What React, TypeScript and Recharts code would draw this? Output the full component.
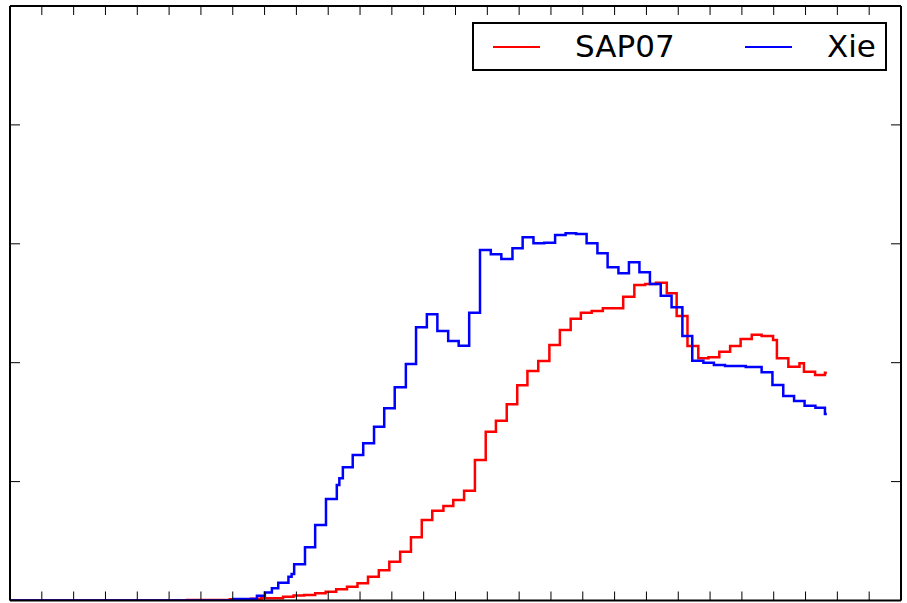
import React from 'react';
import { LineChart, Line, XAxis, YAxis, Legend } from 'recharts';

// Bin start positions (x) and step heights (y) for each histogram
const sapX = [0, 5.56, 6.91, 7.57, 7.9, 8.58, 8.91, 9.24, 9.59, 9.92, 10.25, 10.59, 10.92, 11.25, 11.59, 11.92,
  12.26, 12.6, 12.94, 13.27, 13.62, 13.93, 14.27, 14.61, 14.95, 15.27, 15.61, 15.94, 16.26, 16.6, 16.95,
  17.28, 17.62, 17.94, 18.28, 18.63, 18.96, 19.27, 19.62, 19.96, 20.3, 20.64, 20.95, 21.29, 21.63, 21.95,
  22.29, 22.63, 22.96, 23.31, 23.62, 23.98, 24.1, 24.46, 24.81, 24.95, 25.3, 25.61, 25.67];
const sapY = [0, 0.005, 0.01, 0.015, 0.018, 0.032, 0.042, 0.046, 0.061, 0.074, 0.094, 0.116, 0.145, 0.2, 0.254, 0.326,
  0.41, 0.532, 0.677, 0.755, 0.795, 0.845, 0.923, 1.182, 1.42, 1.512, 1.651, 1.81, 1.93, 2.014, 2.149,
  2.275, 2.37, 2.42, 2.435, 2.458, 2.458, 2.555, 2.653, 2.662, 2.673, 2.584, 2.393, 2.14, 2.037, 2.045,
  2.093, 2.14, 2.2, 2.235, 2.225, 2.19, 2.037, 1.966, 1.995, 1.924, 1.897, 1.916, 1.916];

const xieX = [0, 7.01, 7.76, 8.01, 8.23, 8.43, 8.75, 8.85, 8.93, 9.27, 9.59, 9.93, 10.27, 10.35, 10.46, 10.77,
  11.1, 11.44, 11.76, 12.09, 12.44, 12.76, 13.1, 13.43, 13.77, 14.1, 14.43, 14.77, 15.11, 15.44, 15.79,
  16.11, 16.45, 16.79, 17.13, 17.46, 17.79, 18.12, 18.46, 18.78, 19.12, 19.45, 19.78, 20.11, 20.45, 20.79,
  21.13, 21.44, 21.79, 22.12, 22.47, 23.12, 23.62, 23.96, 24.3, 24.64, 24.97, 25.31, 25.61, 25.67];
const xieY = [0, 0.013, 0.04, 0.067, 0.103, 0.15, 0.2, 0.223, 0.304, 0.447, 0.635, 0.854, 0.971, 1.028, 1.12, 1.224,
  1.322, 1.462, 1.616, 1.793, 1.989, 2.298, 2.407, 2.267, 2.183, 2.143, 2.42, 2.948, 2.912, 2.872, 2.962,
  3.055, 3.004, 3.009, 3.074, 3.088, 3.082, 3.004, 2.92, 2.802, 2.752, 2.844, 2.76, 2.662, 2.563, 2.466,
  2.225, 2.017, 2.0, 1.981, 1.972, 1.964, 1.919, 1.812, 1.72, 1.678, 1.638, 1.622, 1.569, 1.569];

const xTicks = [0, 1, 2, 3, 4, 5, 6, 7, 8, 9, 10, 11, 12, 13, 14, 15, 16, 17, 18, 19, 20, 21, 22, 23, 24, 25, 26, 27, 28];
const yTicks = [0, 1, 2, 3, 4, 5];

const seriesNames = ['SAP07', 'Xie'];
const seriesColors = ['#ff0000', '#0000ff'];

const sapData = sapX.map((x, i) => ({ x, y: sapY[i] }));
const xieData = xieX.map((x, i) => ({ x, y: xieY[i] }));

const axisLine = { stroke: '#000', strokeWidth: 2 };
const tickLine = { stroke: '#000', strokeWidth: 1 };
const noLabel = () => <g />;

const legendOffsets = [19, 271];

const renderLegend = (props: any) => {
  const payload = props.payload || [];
  return (
    <div
      style={{
        position: 'relative',
        boxSizing: 'border-box',
        width: 415,
        height: 49,
        border: '2px solid #000',
        background: '#fff',
        fontFamily: 'DejaVu Sans',
        fontSize: 31,
        color: '#000',
      }}
    >
      {payload.map((p: any, i: number) => (
        <div
          key={p.value}
          style={{
            position: 'absolute',
            left: legendOffsets[i],
            top: 0,
            height: 45,
            display: 'flex',
            alignItems: 'center',
            whiteSpace: 'nowrap',
          }}
        >
          <div style={{ width: 47, height: 2, background: p.color, marginRight: 35 }} />
          <span style={{ lineHeight: '45px' }}>{p.value}</span>
        </div>
      ))}
    </div>
  );
};

export default function App() {
  return (
    <div style={{ position: 'absolute', left: 0, top: 0, width: 907, height: 603, background: '#fff' }}>
      <LineChart width={907} height={603} margin={{ top: 6, right: 6, bottom: 2.5, left: 10 }}>
        <XAxis
          xAxisId="b"
          type="number"
          dataKey="x"
          domain={[0, 28]}
          ticks={xTicks}
          allowDataOverflow
          orientation="bottom"
          mirror
          tick={noLabel}
          tickSize={9}
          stroke="#000"
          axisLine={axisLine}
          tickLine={tickLine}
        />
        <XAxis
          xAxisId="t"
          type="number"
          dataKey="x"
          domain={[0, 28]}
          ticks={xTicks}
          allowDataOverflow
          orientation="top"
          mirror
          tick={noLabel}
          tickSize={9}
          stroke="#000"
          axisLine={axisLine}
          tickLine={tickLine}
        />
        <YAxis
          yAxisId="l"
          type="number"
          domain={[0, 5]}
          ticks={yTicks}
          allowDataOverflow
          orientation="left"
          mirror
          tick={noLabel}
          tickSize={10}
          stroke="#000"
          axisLine={axisLine}
          tickLine={tickLine}
        />
        <YAxis
          yAxisId="r"
          type="number"
          domain={[0, 5]}
          ticks={yTicks}
          allowDataOverflow
          orientation="right"
          mirror
          tick={noLabel}
          tickSize={10}
          stroke="#000"
          axisLine={axisLine}
          tickLine={tickLine}
        />
        <Line
          xAxisId="b"
          yAxisId="l"
          data={sapData}
          dataKey="y"
          name={seriesNames[0]}
          type="stepAfter"
          stroke={seriesColors[0]}
          strokeWidth={2.5}
          dot={false}
          activeDot={false}
          isAnimationActive={false}
        />
        <Line
          xAxisId="b"
          yAxisId="l"
          data={xieData}
          dataKey="y"
          name={seriesNames[1]}
          type="stepAfter"
          stroke={seriesColors[1]}
          strokeWidth={2.5}
          dot={false}
          activeDot={false}
          isAnimationActive={false}
        />
        <Legend
          layout="horizontal"
          verticalAlign="middle"
          align="center"
          content={renderLegend}
          wrapperStyle={{ position: 'absolute', left: 472, top: 22, width: 415, height: 49 }}
        />
      </LineChart>
    </div>
  );
}
